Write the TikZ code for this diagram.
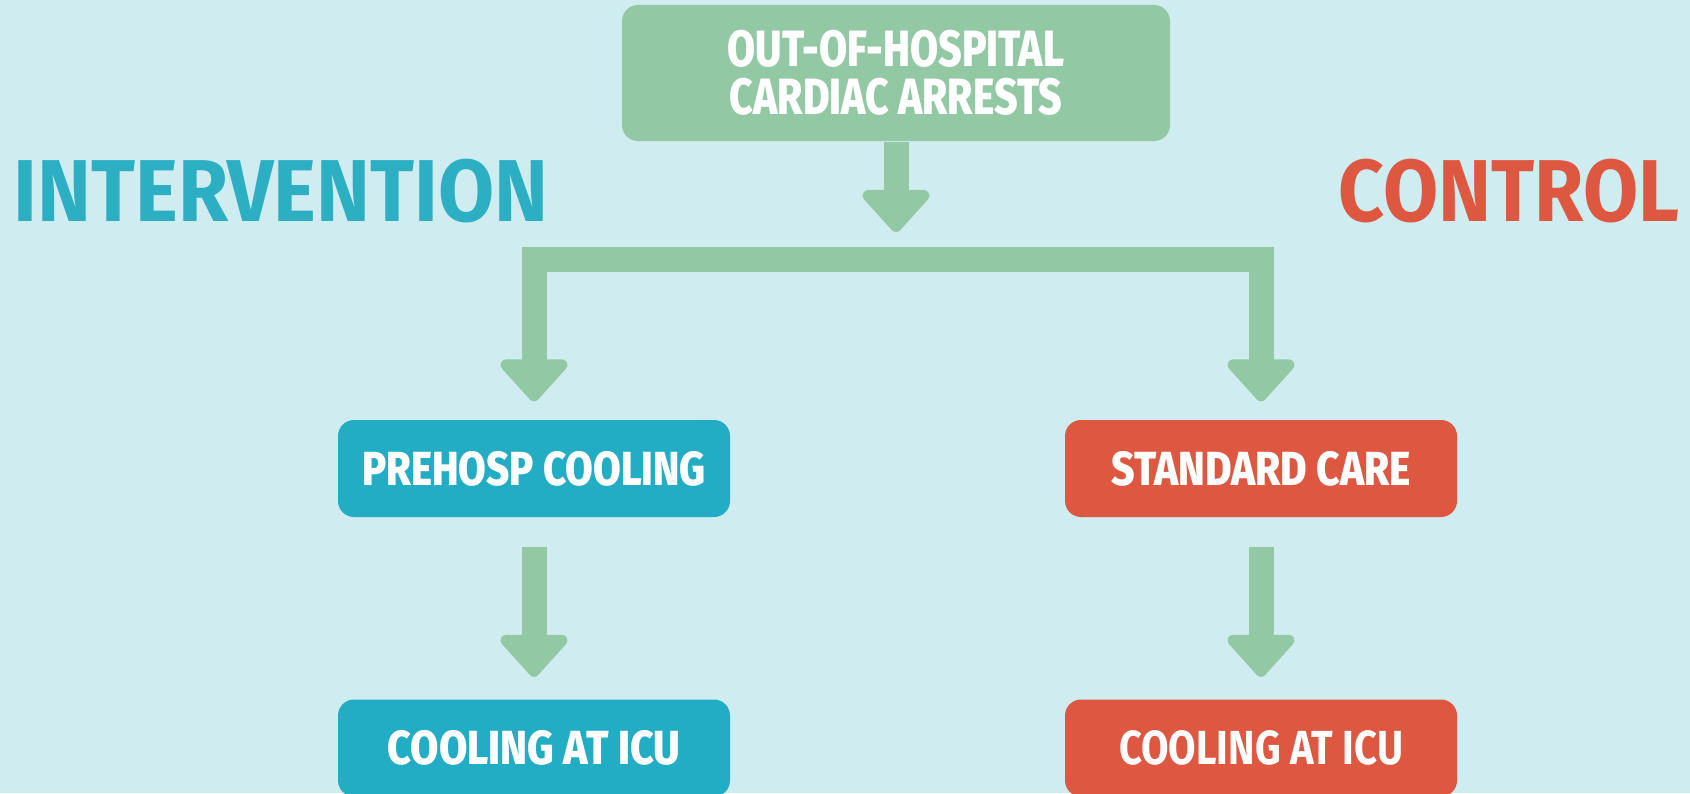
\documentclass[tikz,border=0pt]{standalone}
\usepackage{fontspec}
\setmainfont{Fira Sans}
\newfontfamily\heavyfont{Fira Sans ExtraBold}
\usetikzlibrary{arrows.meta,positioning}

\definecolor{bgcyan}{HTML}{CFEDF0}
\definecolor{flowgreen}{HTML}{93C8A4}
\definecolor{armteal}{HTML}{22ADC4}
\definecolor{headteal}{HTML}{2CAEC3}
\definecolor{armred}{HTML}{DE5841}

\newcommand{\squeeze}[2][0.83]{\scalebox{#1}[1]{#2}}

\tikzset{
	box/.style={rounded corners=0.16cm, minimum width=3.92cm, minimum height=0.97cm, inner sep=0pt, text=white, font=\fontsize{13.6}{14}\selectfont\heavyfont},
	interv/.style={box, fill=armteal},
	ctrl/.style={box, fill=armred},
	heading/.style={inner sep=0pt, font=\fontsize{25}{28}\selectfont\bfseries},
	flow/.style={draw=flowgreen, line width=0.25cm, -{Triangle[width=0.78cm, length=0.45cm, round, line width=4pt 0]}},
	bothflow/.style={draw=flowgreen, line width=0.25cm, {Triangle[width=0.78cm, length=0.45cm, round, line width=4pt 0]}-{Triangle[width=0.78cm, length=0.45cm, round, line width=4pt 0]}},
}

\begin{document}
\begin{tikzpicture}
	\useasboundingbox (0,0) rectangle (16.9,7.93);
	\clip (0,0) rectangle (16.9,7.93);
	\fill[bgcyan] (0,0) rectangle (16.9,7.93);

	% source population
	\node[box, fill=flowgreen, minimum width=5.48cm, minimum height=1.36cm, align=center,
		font=\fontsize{14.5}{13.6}\selectfont\heavyfont] (oohca) at (8.96,7.20)
		{\squeeze[0.8]{OUT-OF-HOSPITAL}\\\squeeze[0.8]{CARDIAC ARRESTS}};

	% arm titles
	\node[heading, text=headteal, anchor=base west] (intervention) at (0.13,5.72) {\squeeze[0.925]{INTERVENTION}};
	\node[heading, text=armred, anchor=base east] (control) at (16.80,5.72) {\squeeze[0.91]{CONTROL}};

	% arms
	\node[interv] (prehosp) at (5.34,3.245) {\squeeze[0.84]{PREHOSP COOLING}};
	\node[ctrl] (standard) at (12.61,3.245) {\squeeze[0.85]{STANDARD CARE}};
	\node[interv] (icuA) at (5.34,0.45) {\squeeze[0.86]{COOLING AT ICU}};
	\node[ctrl, font=\fontsize{13.6}{14}\selectfont\bfseries] (icuB) at (12.61,0.45) {\squeeze[0.835]{COOLING AT ICU}};

	\coordinate (split) at (8.96,5.34);

	\draw[flow] (oohca) -- ([yshift=0.27cm]split);
	\draw[bothflow] ([yshift=0.18cm]prehosp.north) -- (prehosp.north |- split)
		-- (standard.north |- split) -- ([yshift=0.18cm]standard.north);
	\draw[flow] ([yshift=-0.29cm]prehosp.south) -- ([yshift=0.22cm]icuA.north);
	\draw[flow] ([yshift=-0.29cm]standard.south) -- ([yshift=0.22cm]icuB.north);
\end{tikzpicture}
\end{document}
